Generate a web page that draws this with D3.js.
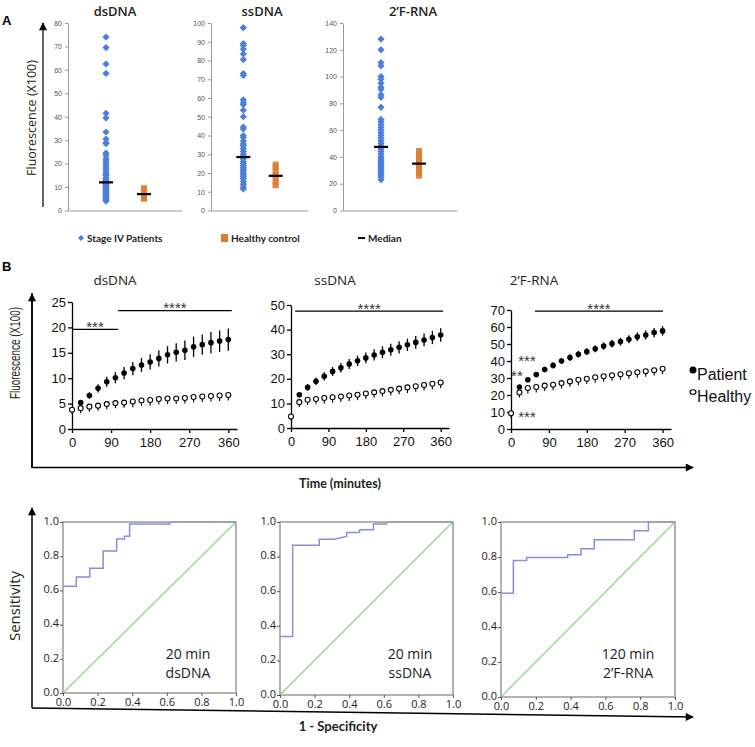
<!DOCTYPE html>
<html>
<head>
<meta charset="utf-8">
<script src="https://cdnjs.cloudflare.com/ajax/libs/d3/7.8.5/d3.min.js"></script>
<style>
    body{ margin:0; background:#fff; }
    svg{ display:block; font-family:"Open Sans", sans-serif; }
</style>
</head>
<body>
<svg width="755" height="747">
    <defs>
        <marker id="arr" viewBox="0 0 10 10" refX="9" refY="5" markerUnits="userSpaceOnUse"
                markerWidth="9" markerHeight="8" orient="auto">
            <path d="M0,0L10,5L0,10z" fill="#000"/>
        </marker>
    </defs>
</svg>
<script>
// ---------------- A: scatter (fluorescence x100)
var aTitles = ["dsDNA", "ssDNA", "2\u2019F-RNA"];
var aGroups = ["Stage IV Patients", "Healthy control"];
var aTicks = [[0,10,20,30,40,50,60,70,80],
              [0,10,20,30,40,50,60,70,80,90,100],
              [0,20,40,60,80,100,120,140]];
var dsPatients = [74,69.5,62.5,58.5,41.5,39.5,33.5,30.5,29,28.5,24.5,23.5,22,21,20,19,18,17,16,15.5,15,14,13.5,13,12.5,12,11.5,11,10.5,10,9.5,9,8.5,8,7.5,7,6.5,6,5.5,5,4.5,4];
var dsHealthy = [5,6,7,8,9,9.5];
var ssPatients = [97.5,89,88,86,83.5,80.5,73,72,59,57.5,56.5,53.5,50,44.5,43.5,40,39,37,35.5,34.5,33,31.5,30,29,27.5,26,25,24,23,22,21,20,19,18,17,15.5,14,12.5,11.5];
var ssHealthy = [13.5,15,17,19,21,23,24.5];
var rnaPatients = [128,120,110.5,108,100,98,95,92,90.5,86.5,84.5,77,68,66,64,62,60,58,56,54,52,50,48,46,44,42,40,38.5,37,35.5,34,32.5,31,29.5,28,26.5,25,23];
var rnaHealthy = [26,28,30,32,34,36,38,40,42,44.5];
var aMedians = [[12,7],[28.5,18.5],[47.5,35]];

// ---------------- B: kinetics (mean +- error)
var timeMin = [0,20,40,60,80,100,120,140,160,180,200,220,240,260,280,300,320,340,360];
var bTimeTicks = [0,90,180,270,360];
var bTicks = [[0,5,10,15,20,25],[0,10,20,30,40,50],[0,10,20,30,40,50,60,70]];
var dsPatientMean = [null,5.2,6.6,8.0,9.3,10.1,11,11.9,12.6,13.2,13.9,14.6,15.1,15.5,16.2,16.6,17,17.3,17.6];
var dsPatientErr  = [null,0.4,0.6,0.8,1.0,1.1,1.2,1.3,1.4,1.5,1.6,1.7,1.8,1.9,2.0,2.0,2.1,2.1,2.2];
var dsHealthyMean = [3.8,4.1,4.4,4.6,4.9,5.1,5.2,5.4,5.6,5.7,5.9,6.0,6.0,6.1,6.3,6.4,6.5,6.6,6.7];
var dsHealthyErr  = [0.9,1.0,1.0,1.0,1.0,1.0,1.0,1.1,1.1,1.1,1.1,1.1,1.1,1.1,1.1,1.1,1.1,1.1,1.1];
var ssPatientMean = [null,13.5,16.5,19,21,23,24.5,26,27.3,28.5,29.7,30.8,31.8,32.8,33.8,34.8,35.8,36.8,37.8];
var ssPatientErr  = [null,1.0,1.3,1.5,1.7,1.8,1.9,2.0,2.1,2.2,2.3,2.4,2.4,2.5,2.5,2.6,2.6,2.7,2.7];
var ssHealthyMean = [4.7,10.5,11.5,11.8,12.2,12.5,12.8,13.2,13.5,14,14.5,15,15.5,16,16.5,17,17.5,18,18.5];
var ssHealthyErr  = [1.5,2.0,2.1,2.1,2.2,2.2,2.2,2.2,2.2,2.2,2.2,2.2,2.3,2.3,2.3,2.3,2.3,2.3,2.3];
var rnaPatientMean = [null,24.7,29,32,35,37.4,40,42,44,45.5,47.2,48.8,50.2,51.4,52.8,54.3,55.3,56.7,57.7];
var rnaPatientErr  = [null,1.2,1.4,1.5,1.6,1.7,1.8,1.9,2.0,2.0,2.1,2.2,2.3,2.3,2.4,2.5,2.6,2.7,2.8];
var rnaHealthyMean = [9.3,21.5,24.1,24.7,25.5,26,27,28,29,29.6,30.4,31,31.6,32.2,32.8,33.4,34,34.6,35.4];
var rnaHealthyErr  = [2.5,3.0,3.2,3.2,3.2,3.2,3.2,3.2,3.2,3.2,3.2,3.2,3.2,3.2,3.2,3.2,3.2,3.2,3.2];
// significance: [from min, to min, level, label]
var dsSig  = [[0,106,19.6,"***"],[106,368,23.3,"****"]];
var ssSig  = [[10,366,47.5,"****"]];
var rnaSig = [[57,361,69.3,"****"]];
// free stars: [min, level, label]
var rnaStars = [[38,41,"***"],[14,32.5,"**"],[38,8.5,"***"]];

// ---------------- ROC
var rocTicks = [0,0.2,0.4,0.6,0.8,1.0];
var rocDsFpr = [0,0.077,0.077,0.155,0.155,0.232,0.232,0.31,0.31,0.355,0.355,0.385,0.385,0.619,0.619,1];
var rocDsTpr = [0.625,0.625,0.678,0.678,0.729,0.729,0.83,0.83,0.9,0.9,0.916,0.916,0.988,0.988,1,1];
var rocSsFpr = [0,0.073,0.073,0.227,0.227,0.31,0.385,0.385,0.46,0.46,0.54,0.54,0.615,0.615,1];
var rocSsTpr = [0.338,0.338,0.865,0.865,0.9,0.9,0.917,0.94,0.94,0.955,0.955,0.988,0.988,1,1];
var rocRnaFpr = [0,0.071,0.071,0.147,0.147,0.383,0.383,0.46,0.46,0.536,0.536,0.766,0.766,0.847,0.847,1];
var rocRnaTpr = [0.593,0.593,0.78,0.78,0.797,0.797,0.813,0.813,0.847,0.847,0.899,0.899,0.95,0.95,1,1];
var rocLabels = [["20 min","dsDNA"],["20 min","ssDNA"],["120 min","2\u2019F-RNA"]];

var svg = d3.select("svg");

// ======================= panel A
svg.append("text").attr("x", 2).attr("y", 25).attr("font-weight", "bold")
    .attr("font-size", 13).attr("font-family", "Liberation Sans").text("A");
svg.append("line").attr("x1", 43).attr("x2", 43).attr("y1", 207).attr("y2", 23)
    .attr("stroke", "#000").attr("stroke-width", 1.2).attr("marker-end", "url(#arr)");
svg.append("text").attr("transform", "translate(36,118) rotate(-90)")
    .attr("text-anchor", "middle").attr("font-size", 12.5).attr("fill", "#222")
    .text("Fluorescence (X100)");

var aBox = [{x0:68, x1:182, tx:115}, {x0:211, x1:308, tx:262}, {x0:343, x1:457, tx:413}];
var aPatients = [dsPatients, ssPatients, rnaPatients];
var aHealthy = [dsHealthy, ssHealthy, rnaHealthy];

aBox.forEach(function(b, i){
    var ticks = aTicks[i];
    var y = d3.scaleLinear().domain([0, ticks[ticks.length-1]]).range([210.5, 23]);
    var x = d3.scalePoint().domain(aGroups).range([b.x0, b.x1]).padding(1);
    var g = svg.append("g");

    g.append("text").attr("x", b.tx).attr("y", 16).attr("text-anchor", "middle")
        .attr("font-size", 13).attr("font-weight", 600).attr("fill", "#222").text(aTitles[i]);

    var ax = g.append("g").attr("transform", "translate(" + b.x0 + ",0)")
        .call(d3.axisLeft(y).tickValues(ticks).tickSize(3).tickSizeOuter(0).tickPadding(3));
    ax.selectAll("path,line").attr("stroke", "#9a9a9a");
    ax.selectAll("text").attr("font-size", 7).attr("fill", "#555").attr("font-family", "Liberation Sans");

    var bx = g.append("g").attr("transform", "translate(0,210.5)")
        .call(d3.axisBottom(x).tickSize(0).tickSizeOuter(0).tickFormat(""));
    bx.select(".domain").attr("stroke", "#9a9a9a");

    g.selectAll(".pt").data(aPatients[i]).enter().append("path")
        .attr("d", d3.symbol(d3.symbolSquare, 26))
        .attr("transform", function(d){ return "translate(" + x(aGroups[0]) + "," + y(d) + ") rotate(45)"; })
        .attr("fill", "#4b7fda");
    g.selectAll(".hc").data(aHealthy[i]).enter().append("path")
        .attr("d", d3.symbol(d3.symbolSquare, 36))
        .attr("transform", function(d){ return "translate(" + x(aGroups[1]) + "," + y(d) + ")"; })
        .attr("fill", "#df7b32").attr("opacity", 0.9);
    aMedians[i].forEach(function(m, k){
        var cx = x(aGroups[k]);
        g.append("line").attr("x1", cx - 7).attr("x2", cx + 7).attr("y1", y(m)).attr("y2", y(m))
            .attr("stroke", "#000").attr("stroke-width", 2.2);
    });
});

// legend A
var legA = svg.append("g").attr("font-size", 10).attr("font-weight", "bold")
    .attr("font-family", "Lato").attr("fill", "#222");
legA.append("path").attr("d", d3.symbol(d3.symbolSquare, 18))
    .attr("transform", "translate(81,238) rotate(45)").attr("fill", "#4b7fda");
legA.append("text").attr("x", 87).attr("y", 242).text("Stage IV Patients");
legA.append("rect").attr("x", 221).attr("y", 234).attr("width", 7).attr("height", 8).attr("fill", "#df7b32");
legA.append("text").attr("x", 231).attr("y", 242).text("Healthy control");
legA.append("line").attr("x1", 358).attr("x2", 365).attr("y1", 238).attr("y2", 238)
    .attr("stroke", "#000").attr("stroke-width", 2);
legA.append("text").attr("x", 368).attr("y", 242).text("Median");

// ======================= panel B
svg.append("text").attr("x", 2).attr("y", 271).attr("font-weight", "bold")
    .attr("font-size", 13).attr("font-family", "Liberation Sans").text("B");
svg.append("path").attr("d", "M32,293V467.5H693").attr("fill", "none")
    .attr("stroke", "#000").attr("stroke-width", 1.5).attr("marker-end", "url(#arr)");
svg.append("path").attr("d", "M32,467.5V294").attr("fill", "none")
    .attr("stroke", "#000").attr("stroke-width", 1.5).attr("marker-end", "url(#arr)");
svg.append("text").attr("transform", "translate(20,353) rotate(-90)")
    .attr("text-anchor", "middle").attr("font-size", 14).attr("font-family", "Liberation Sans")
    .attr("textLength", 92).attr("lengthAdjust", "spacingAndGlyphs").attr("fill", "#222")
    .text("Fluorescence (X100)");
svg.append("text").attr("x", 340).attr("y", 488).attr("text-anchor", "middle")
    .attr("font-size", 12.5).attr("font-weight", "bold").attr("font-family", "Lato")
    .attr("fill", "#222").text("Time (minutes)");

var bBox = [{x0:72, x1:237, yB:429, yT:302, tx:115},
            {x0:291, x1:449, yB:428, yT:305, tx:335},
            {x0:511, x1:671, yB:429, yT:310, tx:534}];
var bPatMean = [dsPatientMean, ssPatientMean, rnaPatientMean];
var bPatErr = [dsPatientErr, ssPatientErr, rnaPatientErr];
var bHeaMean = [dsHealthyMean, ssHealthyMean, rnaHealthyMean];
var bHeaErr = [dsHealthyErr, ssHealthyErr, rnaHealthyErr];
var bSig = [dsSig, ssSig, rnaSig];

bBox.forEach(function(b, i){
    var ticks = bTicks[i];
    var x = d3.scaleLinear().domain([0, 380]).range([b.x0, b.x1]);
    var y = d3.scaleLinear().domain([0, ticks[ticks.length-1]]).range([b.yB, b.yT]);
    var g = svg.append("g").attr("font-family", "Liberation Sans");

    g.append("text").attr("x", b.tx).attr("y", 285).attr("text-anchor", "middle")
        .attr("font-family", "Open Sans").attr("font-size", 13.5).attr("fill", "#222").text(aTitles[i]);

    var ya = g.append("g").attr("transform", "translate(" + b.x0 + ",0)")
        .call(d3.axisLeft(y).tickValues(ticks).tickSize(4).tickSizeOuter(0).tickPadding(2));
    var xa = g.append("g").attr("transform", "translate(0," + b.yB + ")")
        .call(d3.axisBottom(x).tickValues(bTimeTicks).tickSize(4).tickSizeOuter(0).tickPadding(5));
    [ya, xa].forEach(function(a){
        a.selectAll("path,line").attr("stroke", "#000").attr("stroke-width", 1.3);
        a.selectAll("text").attr("font-size", 13).attr("fill", "#111").attr("font-family", "Liberation Sans");
    });

    // healthy: open circles, error tail below
    var hg = g.append("g");
    timeMin.forEach(function(t, k){
        var v = bHeaMean[i][k];
        hg.append("line").attr("x1", x(t)).attr("x2", x(t))
            .attr("y1", y(v)).attr("y2", y(v - bHeaErr[i][k]))
            .attr("stroke", "#000").attr("stroke-width", 1.1);
        hg.append("circle").attr("cx", x(t)).attr("cy", y(v)).attr("r", 2.5)
            .attr("fill", "#fff").attr("stroke", "#000").attr("stroke-width", 1.1);
    });
    // patients: filled circles with error bars
    var pg = g.append("g");
    timeMin.forEach(function(t, k){
        var v = bPatMean[i][k];
        if (v == null) return;
        var e = bPatErr[i][k];
        pg.append("line").attr("x1", x(t)).attr("x2", x(t))
            .attr("y1", y(v + e)).attr("y2", y(v - e))
            .attr("stroke", "#000").attr("stroke-width", 1.3);
        pg.append("circle").attr("cx", x(t)).attr("cy", y(v)).attr("r", 2.8).attr("fill", "#000");
    });

    bSig[i].forEach(function(s){
        g.append("line").attr("x1", x(s[0])).attr("x2", x(s[1])).attr("y1", y(s[2])).attr("y2", y(s[2]))
            .attr("stroke", "#000").attr("stroke-width", 1.2);
        g.append("text").attr("x", x((s[0] + s[1]) / 2)).attr("y", y(s[2]) + 2.5)
            .attr("text-anchor", "middle").attr("font-size", 15).attr("fill", "#333").text(s[3]);
    });
    if (i === 2) {
        rnaStars.forEach(function(s){
            g.append("text").attr("x", x(s[0])).attr("y", y(s[1]) + 7)
                .attr("text-anchor", "middle").attr("font-size", 15).attr("fill", "#333").text(s[2]);
        });
    }
});

// legend B
var legB = svg.append("g").attr("font-family", "Liberation Sans").attr("font-size", 16).attr("fill", "#111");
legB.append("circle").attr("cx", 693).attr("cy", 370).attr("r", 3.5).attr("fill", "#000");
legB.append("text").attr("x", 697).attr("y", 380).text("Patient");
legB.append("ellipse").attr("cx", 693).attr("cy", 392).attr("rx", 3).attr("ry", 2.3)
    .attr("fill", "#fff").attr("stroke", "#000").attr("stroke-width", 1.1);
legB.append("text").attr("x", 697).attr("y", 402).text("Healthy");

// ======================= ROC panel
svg.append("path").attr("d", "M32,708L693,717").attr("fill", "none")
    .attr("stroke", "#000").attr("stroke-width", 1.5).attr("marker-end", "url(#arr)");
svg.append("path").attr("d", "M32,708V508").attr("fill", "none")
    .attr("stroke", "#000").attr("stroke-width", 1.5).attr("marker-end", "url(#arr)");
svg.append("text").attr("transform", "translate(20,606) rotate(-90)")
    .attr("text-anchor", "middle").attr("font-size", 15).attr("fill", "#222").text("Sensitivity");
svg.append("text").attr("x", 338).attr("y", 731).attr("text-anchor", "middle")
    .attr("font-size", 13).attr("font-weight", "bold").attr("font-family", "Lato")
    .attr("fill", "#222").text("1 - Specificity");

var rBox = [{x0:63, x1:236, yB:693, yT:522, tx:188},
            {x0:280, x1:453, yB:695, yT:522, tx:410},
            {x0:501, x1:675, yB:697, yT:522, tx:628}];
var rFpr = [rocDsFpr, rocSsFpr, rocRnaFpr];
var rTpr = [rocDsTpr, rocSsTpr, rocRnaTpr];

rBox.forEach(function(b, i){
    var x = d3.scaleLinear().domain([0, 1]).range([b.x0, b.x1]);
    var y = d3.scaleLinear().domain([0, 1]).range([b.yB, b.yT]);
    var g = svg.append("g");

    g.append("line").attr("x1", x(0)).attr("y1", y(0)).attr("x2", x(1)).attr("y2", y(1))
        .attr("stroke", "#8fd486").attr("stroke-width", 1.2);
    var pts = rFpr[i].map(function(f, k){ return [f, rTpr[i][k]]; });
    g.append("path").datum(pts)
        .attr("d", d3.line().x(function(d){ return x(d[0]); }).y(function(d){ return y(d[1]); }))
        .attr("fill", "none").attr("stroke", "#8a8ed6").attr("stroke-width", 1.5);
    g.append("rect").attr("x", b.x0).attr("y", b.yT).attr("width", b.x1 - b.x0).attr("height", b.yB - b.yT)
        .attr("fill", "none").attr("stroke", "#a0a0a0").attr("stroke-width", 1.6);

    var ya = g.append("g").attr("transform", "translate(" + b.x0 + ",0)")
        .call(d3.axisLeft(y).tickValues(rocTicks).tickFormat(d3.format(".1f")).tickSize(3).tickSizeOuter(0).tickPadding(1));
    var xa = g.append("g").attr("transform", "translate(0," + b.yB + ")")
        .call(d3.axisBottom(x).tickValues(rocTicks).tickFormat(d3.format(".1f")).tickSize(3).tickSizeOuter(0).tickPadding(2));
    [ya, xa].forEach(function(a){
        a.select(".domain").remove();
        a.selectAll("line").attr("stroke", "#555");
        a.selectAll("text").attr("font-size", 11).attr("fill", "#222").attr("font-family", "Open Sans");
    });
    // lift the y labels a touch so the two "0.0" labels do not collide
    ya.selectAll("text").attr("dy", "0.2em");

    g.append("text").attr("x", b.tx).attr("y", 659).attr("text-anchor", "middle")
        .attr("font-size", 14).attr("fill", "#222").text(rocLabels[i][0]);
    g.append("text").attr("x", b.tx).attr("y", 678).attr("text-anchor", "middle")
        .attr("font-size", 14).attr("fill", "#222").text(rocLabels[i][1]);
});
</script>
</body>
</html>
